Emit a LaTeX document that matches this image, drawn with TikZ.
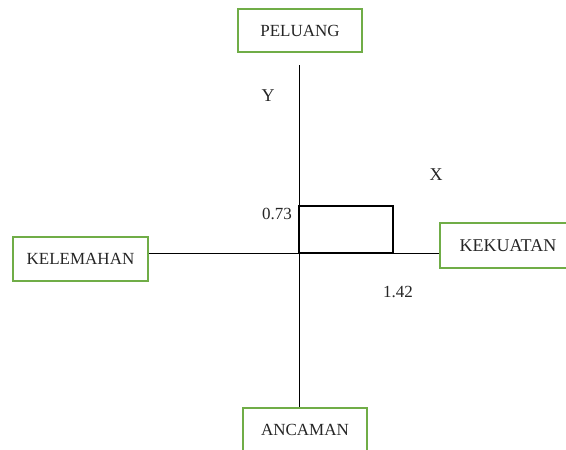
\documentclass[tikz,border=0pt]{standalone}
\usepackage{fontspec}
\setmainfont{Liberation Serif}
\definecolor{boxgreen}{RGB}{112,173,71}
\begin{document}
\begin{tikzpicture}[x=1pt,y=-1pt,
  lbox/.style={draw=boxgreen,line width=2pt,fill=white,inner sep=0pt,font=\fontsize{17}{20}\selectfont,text=black!85},
  axis/.style={draw=black,line width=1pt},
  lbl/.style={inner sep=0pt,font=\fontsize{17}{20}\selectfont,text=black!85}]
\useasboundingbox (0,0) rectangle (566,450);
\node[lbox,minimum width=124pt,minimum height=43pt] (peluang) at (300,30.5) {PELUANG};
\node[lbox,minimum width=135pt,minimum height=44pt] (kelemahan) at (80.5,259) {KELEMAHAN};
\node[lbox,minimum width=136pt,minimum height=45pt,font=\fontsize{18}{21}\selectfont] (kekuatan) at (508,245.5) {KEKUATAN};
\node[lbox,minimum width=124pt,minimum height=44pt] (ancaman) at (305,430) {ANCAMAN};
\coordinate (top) at (299,65);
\coordinate (origin) at (299,253);
\draw[axis] (top) -- (ancaman.north -| top);
\draw[axis] (kelemahan.east |- origin) -- (kekuatan.west |- origin);
\node[draw=black,line width=2pt,inner sep=0pt,minimum width=94pt,minimum height=47pt] (rect) at (346,229.5) {};
\node[lbl] (v073) at (277,214) {0.73};
\node[lbl] (v142) at (398,292) {1.42};
\node[lbl,font=\fontsize{18}{21}\selectfont] (ylab) at (268,96) {Y};
\node[lbl,font=\fontsize{18}{21}\selectfont] (xlab) at (436,175) {X};
\end{tikzpicture}
\end{document}
